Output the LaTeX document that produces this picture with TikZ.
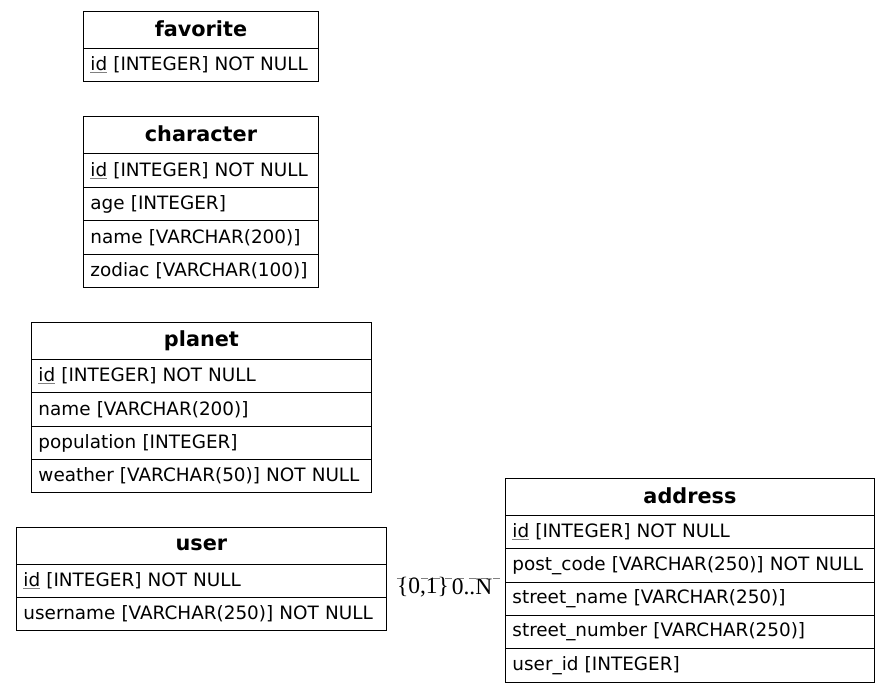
\documentclass[tikz,border=0pt]{standalone}
\usepackage{fontspec}
\setmainfont{DejaVu Sans}
\newfontfamily\lblfont{Liberation Serif}
\usetikzlibrary{calc}
\newcommand{\pk}[1]{{\color{gray}\underline{\color{black}#1}}}
\newcommand{\hd}[1]{\raisebox{2pt}{#1}}
\newcommand{\fd}[1]{\raisebox{1pt}{#1}}
\begin{document}
\begin{tikzpicture}[x=1pt,y=-1pt,
  tbl/.style={draw=black, line width=0.9pt, inner sep=0pt, anchor=north west,
    font=\fontsize{18.4}{22}\selectfont},
  hdr/.style={tbl, font=\fontsize{20.8}{24}\selectfont\bfseries, align=center},
  fld/.style={tbl, inner xsep=7pt, align=left},
  lbl/.style={font=\lblfont\fontsize{23.5}{26}\selectfont, inner sep=0pt}]
\useasboundingbox (0,0) rectangle (889,692);
% favorite
\node[hdr, minimum width=235, minimum height=37] (fav) at (83,11) {\hd{favorite}};
\node[fld, text width=221, minimum height=33] (favid) at (83,48) {\fd{\pk{id} [INTEGER] NOT NULL}};
% character
\node[hdr, minimum width=235, minimum height=37] (chr) at (83,116) {\hd{character}};
\node[fld, text width=221, minimum height=34] (chrid) at (83,153) {\fd{\pk{id} [INTEGER] NOT NULL}};
\node[fld, text width=221, minimum height=33] (chrage) at (83,187) {\fd{age [INTEGER]}};
\node[fld, text width=221, minimum height=34] (chrname) at (83,220) {\fd{name [VARCHAR(200)]}};
\node[fld, text width=221, minimum height=33] (chrzod) at (83,254) {\fd{zodiac [VARCHAR(100)]}};
% planet
\node[hdr, minimum width=340, minimum height=37] (pla) at (31,322) {\hd{planet}};
\node[fld, text width=326, minimum height=33] (plaid) at (31,359) {\fd{\pk{id} [INTEGER] NOT NULL}};
\node[fld, text width=326, minimum height=34] (planame) at (31,392) {\fd{name [VARCHAR(200)]}};
\node[fld, text width=326, minimum height=33] (plapop) at (31,426) {\fd{population [INTEGER]}};
\node[fld, text width=326, minimum height=33] (plawea) at (31,459) {\fd{weather [VARCHAR(50)] NOT NULL}};
% user
\node[hdr, minimum width=370, minimum height=37] (usr) at (16,527) {\hd{user}};
\node[fld, text width=356, minimum height=33] (usrid) at (16,564) {\fd{\pk{id} [INTEGER] NOT NULL}};
\node[fld, text width=356, minimum height=33] (usrname) at (16,597) {\fd{username [VARCHAR(250)] NOT NULL}};
% address
\node[hdr, minimum width=369, minimum height=37] (adr) at (505,478) {\hd{address}};
\node[fld, text width=355, minimum height=33] (adrid) at (505,515) {\fd{\pk{id} [INTEGER] NOT NULL}};
\node[fld, text width=355, minimum height=34] (adrpc) at (505,548) {\fd{post\_code [VARCHAR(250)] NOT NULL}};
\node[fld, text width=355, minimum height=33] (adrsn) at (505,582) {\fd{street\_name [VARCHAR(250)]}};
\node[fld, text width=355, minimum height=33] (adrnum) at (505,615) {\fd{street\_number [VARCHAR(250)]}};
\node[fld, text width=355, minimum height=34] (adruid) at (505,648) {\fd{user\_id [INTEGER]}};
% relation
\coordinate (cs) at ([yshift=2.5pt]usrid.east);
\draw[gray, line width=0.8pt, dash pattern=on 7pt off 5pt, shorten <=10pt, shorten >=5pt]
  (cs) -- (cs -| adrpc.west);
\node[lbl] (card1) at (423,587) {\{0,1\}};
\node[lbl] (card2) at (472,587) {0..N};
\end{tikzpicture}
\end{document}
